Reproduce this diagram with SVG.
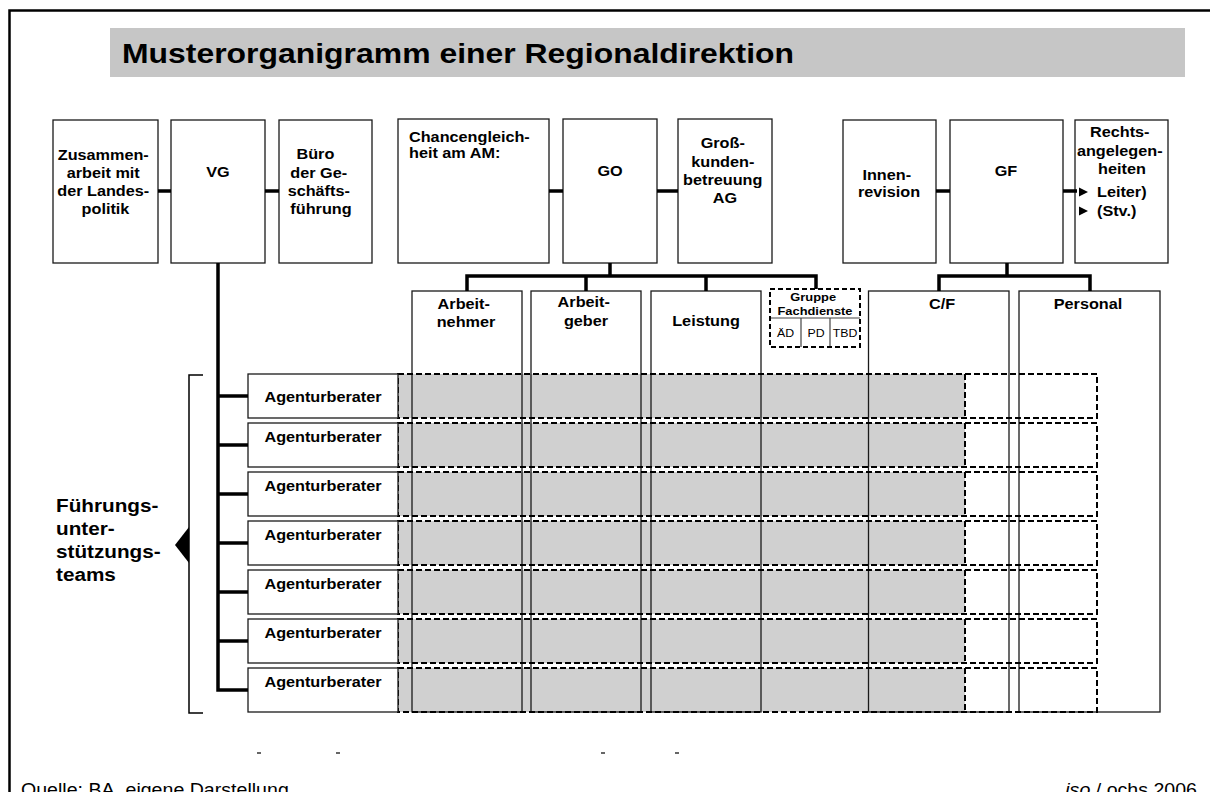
<svg xmlns="http://www.w3.org/2000/svg" width="1210" height="792" viewBox="0 0 1210 792">
  <defs>
    <style>
      .box { fill: #fff; stroke: #1a1a1a; stroke-width: 1.3; }
      .col { fill: none; stroke: #1a1a1a; stroke-width: 1.3; }
      .dash { fill: none; stroke: #000; stroke-width: 2; stroke-dasharray: 6 3; }
      .shade { fill: #d0d0d0; }
      .conn { fill: none; stroke: #000; stroke-width: 3.5; stroke-linejoin: miter; }
      .thin { fill: none; stroke: #444; stroke-width: 1.2; }
      .lbl { font-family: "Liberation Sans", Arial, sans-serif; font-weight: bold; font-size: 14.5px; text-anchor: middle; fill: #000; }
      .left { text-anchor: start; }
      .small { font-size: 11.5px; }
      .tiny { font-size: 11px; font-weight: normal; }
      .foot { font-family: "Liberation Sans", Arial, sans-serif; font-size: 17.5px; fill: #000; }
    </style>
  </defs>

  <rect width="1210" height="792" fill="#fff"/>
  <!-- page frame (open to the right and bottom) -->
  <path d="M9.5,792 V10.5 H1210" fill="none" stroke="#000" stroke-width="2.5"/>

  <!-- heading -->
  <g id="title">
    <rect x="110" y="28" width="1075" height="49" fill="#c6c6c6"/>
    <text class="lbl left" style="font-size:28.5px" transform="translate(122 0) scale(1.12 1)" x="0" y="63">Musterorganigramm einer Regionaldirektion</text>
  </g>

  <!-- shaded team rows (drawn under the column outlines) -->
  <g id="row-fills">
    <rect class="shade" x="398" y="374" width="567" height="44"/>
    <rect class="shade" x="398" y="423" width="567" height="44"/>
    <rect class="shade" x="398" y="472" width="567" height="44"/>
    <rect class="shade" x="398" y="521" width="567" height="44"/>
    <rect class="shade" x="398" y="570" width="567" height="44"/>
    <rect class="shade" x="398" y="619" width="567" height="44"/>
    <rect class="shade" x="398" y="668" width="567" height="44"/>
  </g>

  <!-- top row -->
  <g id="zusammenarbeit">
    <rect class="box" x="53" y="120" width="105" height="143"/>
    <text class="lbl" transform="translate(105.5 0) scale(1.12 1)">
      <tspan x="0" y="160">Zusammen-</tspan>
      <tspan x="0" y="178">arbeit mit</tspan>
      <tspan x="0" y="196">der Landes-</tspan>
      <tspan x="0" y="214">politik</tspan>
    </text>
  </g>
  <g id="vg">
    <rect class="box" x="171" y="120" width="94" height="143"/>
    <text class="lbl" transform="translate(218 0) scale(1.12 1)" x="0" y="177">VG</text>
  </g>
  <g id="buero">
    <rect class="box" x="279" y="120" width="93" height="143"/>
    <text class="lbl" transform="translate(321 0) scale(1.12 1)">
      <tspan x="-3" y="159">Büro</tspan>
      <tspan x="0" y="178">der Ge-</tspan>
      <tspan x="0" y="196">schäfts-</tspan>
      <tspan x="0" y="214">führung</tspan>
    </text>
  </g>
  <g id="chancengleichheit">
    <rect class="box" x="398" y="119" width="151" height="144"/>
    <text class="lbl left" transform="translate(409 0) scale(1.12 1)">
      <tspan x="0" y="142">Chancengleich-</tspan>
      <tspan x="0" y="158.5">heit am AM:</tspan>
    </text>
  </g>
  <g id="go">
    <rect class="box" x="563" y="119" width="94" height="144"/>
    <text class="lbl" transform="translate(610 0) scale(1.12 1)" x="0" y="176">GO</text>
  </g>
  <g id="grosskunden">
    <rect class="box" x="678" y="119" width="94" height="144"/>
    <text class="lbl" transform="translate(725 0) scale(1.12 1)">
      <tspan x="0" y="148">Groß-</tspan>
      <tspan x="0" y="167">kunden-</tspan>
      <tspan x="0" y="185">betreuung</tspan>
      <tspan x="0" y="203">AG</tspan>
    </text>
  </g>
  <g id="innenrevision">
    <rect class="box" x="843" y="120" width="93" height="143"/>
    <text class="lbl" transform="translate(889 0) scale(1.12 1)">
      <tspan x="0" y="180">Innen-</tspan>
      <tspan x="0" y="197">revision</tspan>
    </text>
  </g>
  <g id="gf">
    <rect class="box" x="950" y="120" width="113" height="143"/>
    <text class="lbl" transform="translate(1006 0) scale(1.12 1)" x="0" y="176">GF</text>
  </g>
  <g id="rechtsangelegenheiten">
    <rect class="box" x="1075" y="120" width="93" height="143"/>
    <text class="lbl" transform="translate(1122 0) scale(1.12 1)">
      <tspan x="0" y="137">Rechts-</tspan>
      <tspan x="0" y="156">angelegen-</tspan>
      <tspan x="0" y="174.5">heiten</tspan>
    </text>
    <polygon points="1079,187.5 1088,192 1079,196.5" fill="#000"/>
    <polygon points="1079,206.5 1088,211 1079,215.5" fill="#000"/>
    <text class="lbl left" transform="translate(1097 0) scale(1.12 1)">
      <tspan x="0" y="197">Leiter)</tspan>
      <tspan x="0" y="216">(Stv.)</tspan>
    </text>
  </g>

  <!-- departments -->
  <g id="arbeitnehmer">
    <rect class="col" x="412" y="291" width="110" height="421"/>
    <text class="lbl" transform="translate(466 0) scale(1.12 1)">
      <tspan x="0" y="309">Arbeit-</tspan>
      <tspan x="0" y="327">nehmer</tspan>
    </text>
  </g>
  <g id="arbeitgeber">
    <rect class="col" x="531" y="291" width="110" height="421"/>
    <text class="lbl" transform="translate(586 0) scale(1.12 1)">
      <tspan x="0" y="307.5">Arbeit-</tspan>
      <tspan x="0" y="326.5">geber</tspan>
    </text>
  </g>
  <g id="leistung">
    <rect class="col" x="651" y="291" width="110" height="421"/>
    <text class="lbl" transform="translate(706 0) scale(1.12 1)" x="0" y="326">Leistung</text>
  </g>
  <g id="fachdienste">
    <line class="thin" x1="770" y1="318" x2="860" y2="318"/>
    <line class="thin" x1="801" y1="318" x2="801" y2="347"/>
    <line class="thin" x1="830" y1="318" x2="830" y2="347"/>
    <rect class="dash" x="770" y="289" width="90" height="58" style="stroke-dasharray:5 3"/>
    <text class="lbl small" transform="translate(815 0) scale(1.12 1)">
      <tspan x="0" y="301.5">Gruppe</tspan>
      <tspan x="0" y="315">Fachdienste</tspan>
    </text>
    <text class="lbl tiny" transform="translate(785.5 0) scale(1.12 1)" x="0" y="337">ÄD</text>
    <text class="lbl tiny" transform="translate(816 0) scale(1.12 1)" x="0" y="337">PD</text>
    <text class="lbl tiny" transform="translate(845 0) scale(1.12 1)" x="0" y="337">TBD</text>
  </g>
  <g id="cf">
    <rect class="col" x="868.5" y="291" width="140.5" height="421"/>
    <text class="lbl" transform="translate(942 0) scale(1.12 1)" x="0" y="309">C/F</text>
  </g>
  <g id="personal">
    <rect class="col" x="1019" y="291" width="141" height="421"/>
    <text class="lbl" transform="translate(1088 0) scale(1.12 1)" x="0" y="309">Personal</text>
  </g>

  <!-- dashed team rows -->
  <g id="row-frames">
    <rect class="dash" x="398" y="374" width="699" height="44"/><line class="dash" x1="965" y1="374" x2="965" y2="418"/>
    <rect class="dash" x="398" y="423" width="699" height="44"/><line class="dash" x1="965" y1="423" x2="965" y2="467"/>
    <rect class="dash" x="398" y="472" width="699" height="44"/><line class="dash" x1="965" y1="472" x2="965" y2="516"/>
    <rect class="dash" x="398" y="521" width="699" height="44"/><line class="dash" x1="965" y1="521" x2="965" y2="565"/>
    <rect class="dash" x="398" y="570" width="699" height="44"/><line class="dash" x1="965" y1="570" x2="965" y2="614"/>
    <rect class="dash" x="398" y="619" width="699" height="44"/><line class="dash" x1="965" y1="619" x2="965" y2="663"/>
    <rect class="dash" x="398" y="668" width="699" height="44"/><line class="dash" x1="965" y1="668" x2="965" y2="712"/>
  </g>

  <!-- agency advisers -->
  <g id="agentur-1">
    <rect class="box" x="248" y="374" width="150" height="44"/>
    <text class="lbl" transform="translate(323 0) scale(1.12 1)" x="0" y="402">Agenturberater</text>
  </g>
  <g id="agentur-2">
    <rect class="box" x="248" y="423" width="150" height="44"/>
    <text class="lbl" transform="translate(323 0) scale(1.12 1)" x="0" y="442">Agenturberater</text>
  </g>
  <g id="agentur-3">
    <rect class="box" x="248" y="472" width="150" height="44"/>
    <text class="lbl" transform="translate(323 0) scale(1.12 1)" x="0" y="491">Agenturberater</text>
  </g>
  <g id="agentur-4">
    <rect class="box" x="248" y="521" width="150" height="44"/>
    <text class="lbl" transform="translate(323 0) scale(1.12 1)" x="0" y="540">Agenturberater</text>
  </g>
  <g id="agentur-5">
    <rect class="box" x="248" y="570" width="150" height="44"/>
    <text class="lbl" transform="translate(323 0) scale(1.12 1)" x="0" y="589">Agenturberater</text>
  </g>
  <g id="agentur-6">
    <rect class="box" x="248" y="619" width="150" height="44"/>
    <text class="lbl" transform="translate(323 0) scale(1.12 1)" x="0" y="638">Agenturberater</text>
  </g>
  <g id="agentur-7">
    <rect class="box" x="248" y="668" width="150" height="44"/>
    <text class="lbl" transform="translate(323 0) scale(1.12 1)" x="0" y="687">Agenturberater</text>
  </g>

  <!-- support-team bracket -->
  <g id="fuehrungsunterstuetzung">
    <path d="M203,375 H189 V713 H203" fill="none" stroke="#000" stroke-width="1.5"/>
    <polygon points="189,527 175,545 189,563" fill="#000"/>
    <text class="lbl left" style="font-size:18.5px" transform="translate(56 0) scale(1.12 1)">
      <tspan x="0" y="512">Führungs-</tspan>
      <tspan x="0" y="535">unter-</tspan>
      <tspan x="0" y="558">stützungs-</tspan>
      <tspan x="0" y="581">teams</tspan>
    </text>
  </g>

  <!-- connectors -->
  <g id="connectors">
    <line class="conn" x1="158" y1="191" x2="171" y2="191"/>
    <line class="conn" x1="265" y1="191" x2="279" y2="191"/>
    <line class="conn" x1="549" y1="191" x2="563" y2="191"/>
    <line class="conn" x1="657" y1="191" x2="678" y2="191"/>
    <line class="conn" x1="936" y1="191" x2="950" y2="191"/>
    <line class="conn" x1="1063" y1="191" x2="1077" y2="191"/>
    <!-- GO to departments -->
    <path class="conn" d="M610,263 V276"/>
    <path class="conn" d="M467,291 V276 H816 V289"/>
    <path class="conn" d="M586,276 V291"/>
    <path class="conn" d="M706,276 V291"/>
    <!-- GF to C/F and Personal -->
    <path class="conn" d="M1007,263 V276"/>
    <path class="conn" d="M939,291 V276 H1090 V291"/>
    <!-- VG spine to the advisers -->
    <path class="conn" d="M218,263 V690 H248"/>
    <line class="conn" x1="218" y1="396" x2="248" y2="396"/>
    <line class="conn" x1="218" y1="445" x2="248" y2="445"/>
    <line class="conn" x1="218" y1="494" x2="248" y2="494"/>
    <line class="conn" x1="218" y1="543" x2="248" y2="543"/>
    <line class="conn" x1="218" y1="592" x2="248" y2="592"/>
    <line class="conn" x1="218" y1="641" x2="248" y2="641"/>
  </g>

  <!-- stray marks below the chart -->
  <g stroke="#333" stroke-width="1.5">
    <line x1="257" y1="753" x2="261" y2="753"/>
    <line x1="336" y1="753" x2="340" y2="753"/>
    <line x1="601" y1="753" x2="605" y2="753"/>
    <line x1="675" y1="753" x2="679" y2="753"/>
  </g>

  <!-- footer -->
  <text class="foot" transform="translate(21 0) scale(1.12 1)" x="0" y="796">Quelle: BA, eigene Darstellung</text>
  <text class="foot" text-anchor="end" transform="translate(1197 0) scale(1.12 1)" x="0" y="796"><tspan font-style="italic">iso</tspan> / ochs 2006</text>
</svg>
